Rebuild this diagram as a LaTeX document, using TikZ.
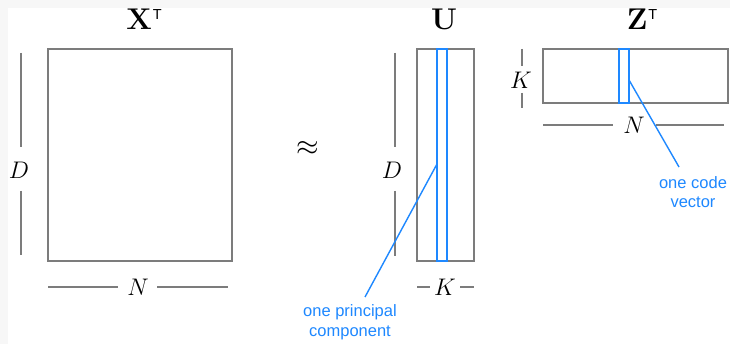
\RequirePackage{fix-cm}
\documentclass[tikz,border=0pt]{standalone}
\usepackage{fontspec}
\newfontfamily\lab{Liberation Sans}
\definecolor{frame}{HTML}{7C7C7C}
\definecolor{pcblue}{HTML}{1E88FF}
\definecolor{bgstrip}{HTML}{F7F7F7}
\tikzset{
  mat/.style={draw=frame, line width=2.3pt},
  dimline/.style={draw=frame, line width=1.2pt},
  sel/.style={draw=pcblue, line width=1.6pt},
  lead/.style={draw=pcblue, line width=1.4pt},
  title/.style={inner sep=0pt, anchor=base, font=\fontsize{30}{30}\selectfont\bfseries},
  dimlab/.style={inner sep=0pt, font=\fontsize{24}{24}\selectfont},
  note/.style={inner sep=0pt, align=center, text=pcblue, font=\lab\fontsize{16.5}{19.5}\selectfont},
}
\newcommand{\trsp}{\raisebox{10.5pt}{\lab\mdseries\fontsize{14.5}{14.5}\selectfont T}}
\begin{document}
\begin{tikzpicture}[x=1pt,y=-1pt]
\fill[bgstrip] (0,0) rectangle (730,344);
\fill[white] (8,8) rectangle (730,344);
\useasboundingbox (0,0) rectangle (730,344);

% X^T
\node[mat, minimum width=184pt, minimum height=212pt, inner sep=0pt] (X) at (140,155) {};
\node[title] (XT) at (144,30) {X\kern1pt\trsp};
\node[dimlab] (DX) at (19,170) {$D$};
\coordinate (DXa) at (21,53); \coordinate (DXb) at (21,147);
\coordinate (DXc) at (21,191); \coordinate (DXd) at (21,255);
\draw[dimline] (DXa) -- (DXb); \draw[dimline] (DXc) -- (DXd);
\node[dimlab] (NX) at (138,287) {$N$};
\coordinate (NXa) at (48,287); \coordinate (NXb) at (118,287);
\coordinate (NXc) at (157,287); \coordinate (NXd) at (228,287);
\draw[dimline] (NXa) -- (NXb); \draw[dimline] (NXc) -- (NXd);

% approx
\node[inner sep=0pt, font=\fontsize{29}{29}\selectfont] (approx) at (308,148) {$\approx$};

% U
\node[mat, minimum width=57pt, minimum height=212pt, inner sep=0pt] (U) at (445.5,155) {};
\node[sel, minimum width=10pt, minimum height=212pt, inner sep=0pt] (Ucol) at (442,155) {};
\node[title] (UT) at (444,30) {U};
\node[dimlab] (DU) at (392,170) {$D$};
\coordinate (DUa) at (395,53); \coordinate (DUb) at (395,147);
\coordinate (DUc) at (395,191); \coordinate (DUd) at (395,256);
\draw[dimline] (DUa) -- (DUb); \draw[dimline] (DUc) -- (DUd);
\node[dimlab] (KU) at (445,287) {$K$};
\coordinate (KUa) at (417,287); \coordinate (KUb) at (430,287);
\coordinate (KUc) at (460,287); \coordinate (KUd) at (474,287);
\draw[dimline] (KUa) -- (KUb); \draw[dimline] (KUc) -- (KUd);
\coordinate (Upt) at (437,164);
\node[note] (pc) at (350,322) {one principal\\component};
\coordinate (pcend) at (365,297);
\draw[lead] (Upt) -- (pcend);

% Z^T
\node[mat, minimum width=185pt, minimum height=54pt, inner sep=0pt] (Z) at (635.5,76) {};
\node[sel, minimum width=10pt, minimum height=54pt, inner sep=0pt] (Zcol) at (624,76) {};
\node[title] (ZT) at (642,30) {Z\kern1pt\trsp};
\node[dimlab] (KZ) at (521,80) {$K$};
\coordinate (KZa) at (522,49); \coordinate (KZb) at (522,66);
\coordinate (KZc) at (522,93); \coordinate (KZd) at (522,108);
\draw[dimline] (KZa) -- (KZb); \draw[dimline] (KZc) -- (KZd);
\node[dimlab] (NZ) at (634,125) {$N$};
\coordinate (NZa) at (543,125); \coordinate (NZb) at (613,125);
\coordinate (NZc) at (656,125); \coordinate (NZd) at (724,125);
\draw[dimline] (NZa) -- (NZb); \draw[dimline] (NZc) -- (NZd);
\coordinate (Zpt) at (629,80);
\node[note] (cv) at (693,192) {one code\\vector};
\coordinate (cvend) at (679,167);
\draw[lead] (Zpt) -- (cvend);
\end{tikzpicture}
\end{document}
